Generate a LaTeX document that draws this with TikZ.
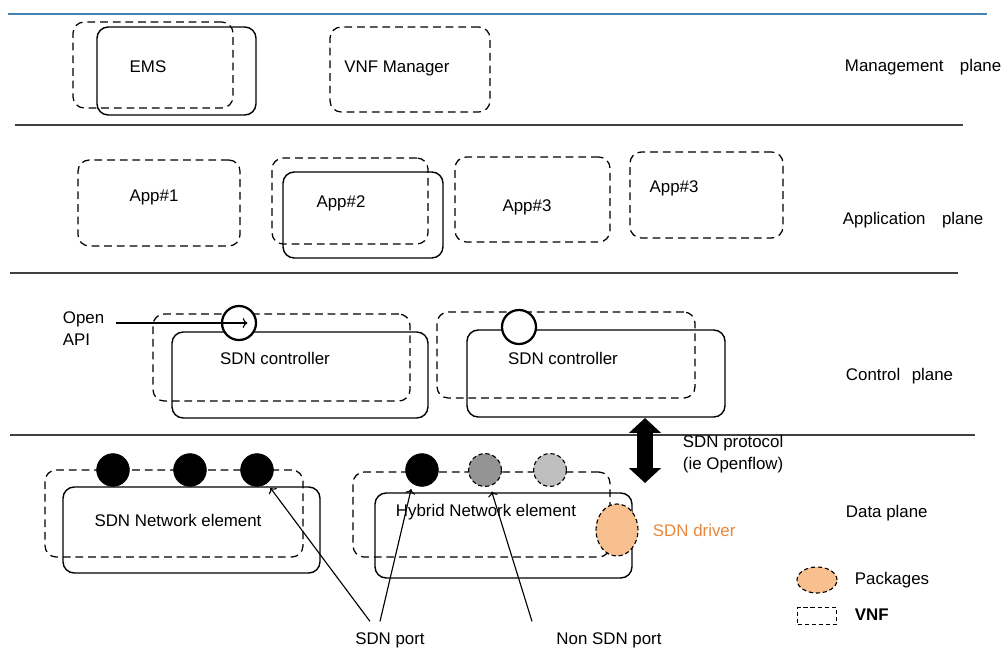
\documentclass[tikz,border=0pt]{standalone}
\usepackage{fontspec}
\setmainfont{Liberation Sans}
\usetikzlibrary{positioning,fit,calc,shapes.geometric,arrows.meta}
\definecolor{pkgorange}{RGB}{248,192,142}
\definecolor{drvtext}{RGB}{232,135,60}
\definecolor{topblue}{RGB}{70,130,180}
\tikzstyle{vnf}=[draw,dash pattern=on 5.5pt off 3.5pt,rounded corners=8pt,line width=0.9pt,inner sep=0pt]
\tikzstyle{elem}=[draw,rounded corners=8pt,line width=1pt,inner sep=0pt]
\tikzstyle{plane}=[anchor=west]
\tikzstyle{port}=[circle,draw,minimum size=0.82cm,inner sep=0pt]
\tikzstyle{sep}=[line width=1.4pt,black!75]
\tikzstyle{ptr}=[->,>=To,line width=0.8pt,shorten >=4pt]

\begin{document}
\begin{tikzpicture}[
    x=0.025cm,y=-0.025cm,
    font=\fontsize{12}{15.5}\selectfont,
    sdnport/.style={port,fill=black},
    nonsdn/.style={port,dash pattern=on 3pt off 2pt,line width=0.8pt},
    api/.style={circle,draw,line width=1.6pt,fill=white,minimum size=0.85cm,inner sep=0pt},
    pkg/.style={ellipse,draw,dash pattern=on 3pt off 2pt,line width=0.8pt,fill=pkgorange,inner sep=0pt},
    proto/.style={line width=11pt,{Triangle[width=22pt,length=10.5pt]}-{Triangle[width=22pt,length=10.5pt]}}
    ]
    \useasboundingbox (0,0) rectangle (1004,651);

    % plane separators
    \draw [line width=1.4pt,topblue] (8,14) -- (987,14);
    \draw [sep] (15,125) -- (963,125);
    \draw [sep] (10,273) -- (958,273);
    \draw [sep] (10,435) -- (975,435);

    \node [plane] (mgmt) at (840,67) {Management\hspace{0.7em} plane};
    \node [plane] (appl) at (838,220) {Application\hspace{0.7em} plane};
    \node [plane] (ctrl) at (841,376) {Control\hspace{0.4em} plane};
    \node [plane] (data) at (841,513) {Data plane};

    % management plane
    \node [vnf,fit={(73,22) (233,108)}] (emsVnf) {};
    \node [elem,fit={(97,27) (256,115)}] (emsBox) {};
    \node (ems) at (148,67) {EMS};
    \node [vnf,fit={(330,27) (490,112)}] (vnfmVnf) {};
    \node (vnfm) at (397,68) {VNF Manager};

    % application plane
    \node [vnf,fit={(78,160) (240,246)}] (app1Vnf) {};
    \node (app1) at (154,197) {App\#1};
    \node [vnf,fit={(272,158) (428,244)}] (app2Vnf) {};
    \node [elem,fit={(283,172) (443,258)}] (app2Box) {};
    \node (app2) at (341,203) {App\#2};
    \node [vnf,fit={(455,157) (610,242)}] (app3aVnf) {};
    \node (app3a) at (527,207) {App\#3};
    \node [vnf,fit={(630,152) (783,238)}] (app3bVnf) {};
    \node (app3b) at (674,188) {App\#3};

    % control plane
    \node [vnf,fit={(153,314) (410,401)}] (ctrlLVnf) {};
    \node [elem,fit={(172,332) (428,418)}] (ctrlLBox) {};
    \node (ctrlLTxt) at (275,358) {SDN controller};
    \node [vnf,fit={(437,312) (695,398)}] (ctrlRVnf) {};
    \node [elem,fit={(467,330) (725,417)}] (ctrlRBox) {};
    \node (ctrlRTxt) at (563,358) {SDN controller};
    \node [api] (apiL) at (239,323) {};
    \node [api] (apiR) at (519,327) {};
    \node [align=left,anchor=west] (openApi) at (58,329) {Open\\API};
    \draw [->,>=To,line width=0.8pt,shorten <=5pt,shorten >=-6pt]
      (openApi.east |- apiL.center) -- (apiL.center);

    % SDN protocol
    \coordinate (protoTop) at (645,418);
    \coordinate (protoBot) at (645,483);
    \draw [proto] (protoTop) -- (protoBot);
    \node [align=left,anchor=west] (protoTxt) at (678,454) {SDN protocol\\(ie Openflow)};

    % data plane
    \node [vnf,fit={(45,470) (303,557)}] (sdnNeVnf) {};
    \node [elem,fit={(63,487) (320,573)}] (sdnNeBox) {};
    \node (sdnNeTxt) at (178,520) {SDN Network element};
    \foreach \name/\px in {sdn1/113,sdn2/190,sdn3/257}
      \node [sdnport] (\name) at (\px,470) {};

    \node [vnf,fit={(353,472) (610,557)}] (hybVnf) {};
    \node [elem,fit={(375,493) (632,578)}] (hybBox) {};
    \node (hybTxt) at (486,512) {Hybrid Network element};
    \node [sdnport] (hyb1) at (422,470) {};
    \node [nonsdn,fill=black!42] (hyb2) at (485,470) {};
    \node [nonsdn,fill=black!25] (hyb3) at (550,470) {};
    \node [pkg,minimum width=1.05cm,minimum height=1.3cm] (driver) at (617,530) {};
    \node [text=drvtext,anchor=west] (driverTxt) at (648,530) {SDN driver};

    % port labels
    \node (sdnPort) at (390,640) {SDN port};
    \node (nonSdnPort) at (609,640) {Non SDN port};
    \draw [ptr] ($(sdnPort.north)+(-20,-6)$) -- (sdn3);
    \draw [ptr] ($(sdnPort.north)+(-10,-6)$) -- (hyb1.235);
    \draw [ptr] ($(nonSdnPort.north)+(-77,-6)$) -- (hyb2);

    % legend
    \node [pkg,minimum width=1.0cm,minimum height=0.65cm] (legPkg) at (817,580) {};
    \node [anchor=west] (legPkgTxt) at (850,580) {Packages};
    \node [draw,dash pattern=on 3pt off 2pt,line width=0.8pt,minimum width=0.97cm,
      minimum height=0.42cm,inner sep=0pt] (legVnf) at (817,616) {};
    \node [anchor=west,font=\fontsize{12}{15.5}\selectfont\bfseries] (legVnfTxt) at (850,615) {VNF};
\end{tikzpicture}
\end{document}
